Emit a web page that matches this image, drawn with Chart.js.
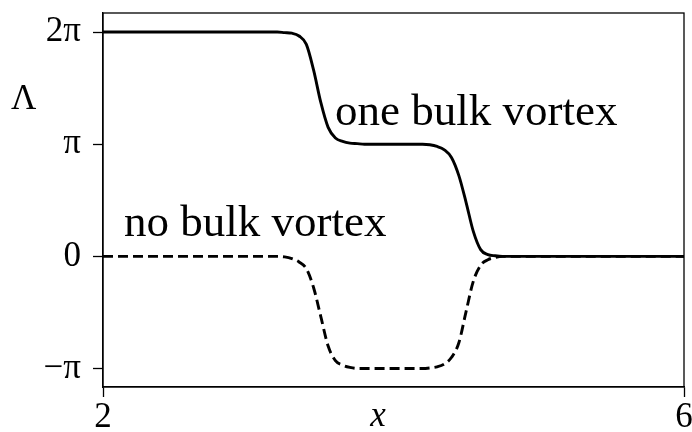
<!DOCTYPE html>
<html>
<head>
<meta charset="utf-8">
<script src="https://cdn.jsdelivr.net/npm/chart.js@4/dist/chart.umd.min.js"></script>
<style>
  html, body { margin: 0; padding: 0; background: #fff; }
  #wrap { width: 692px; height: 432px; }
</style>
</head>
<body>
<div id="wrap"><canvas id="chart" width="692" height="432"></canvas></div>
<script>
// x positions and Lambda values (in units of pi)
const xs = [2, 2.5, 3, 3.1, 3.2, 3.25, 3.3, 3.35, 3.4, 3.45, 3.5, 3.55, 3.6, 3.65, 3.7, 3.75, 3.8, 3.9,
            4, 4.1, 4.2, 4.25, 4.3, 4.35, 4.4, 4.45, 4.5, 4.55, 4.6, 4.65, 4.7, 4.75, 4.8, 4.9, 5, 5.5, 6];
const oneVortex = [2, 2, 2, 2, 2, 1.995, 1.99, 1.965, 1.89, 1.66, 1.37, 1.15, 1.055, 1.025, 1.01, 1.005, 1, 1,
                   1, 1, 1, 0.995, 0.98, 0.95, 0.88, 0.72, 0.48, 0.22, 0.06, 0.015, 0.005, 0, 0, 0, 0, 0, 0];
const noVortex = [0, 0, 0, 0, 0, -0.005, -0.02, -0.05, -0.11, -0.28, -0.54, -0.8, -0.93, -0.97, -0.99, -1, -1, -1,
                  -1, -1, -1, -0.995, -0.985, -0.96, -0.9, -0.77, -0.49, -0.22, -0.08, -0.03, -0.01, 0, 0, 0, 0, 0, 0];

const xTicks = [2, 6];
const yTicks = [-1, 0, 1, 2];
const yTickLabels = ["\u2212\u03c0", "0", "\u03c0", "2\u03c0"];

const serif = "'Liberation Serif', 'DejaVu Serif', serif";

function pts(ys) {
  return xs.map((x, i) => ({x: x, y: ys[i]}));
}

const frame = {
  id: 'frame',
  afterDraw(chart) {
    const c = chart.ctx, a = chart.chartArea;
    c.save();
    c.strokeStyle = '#000';
    c.lineWidth = 1.3;
    c.strokeRect(a.left, a.top, a.right - a.left, a.bottom - a.top);
    c.fillStyle = '#000';
    c.textBaseline = 'alphabetic';
    c.font = "35px " + serif;
    c.textAlign = 'left';
    c.fillText("\u039b", 11, 109);
    c.font = "italic 35px " + serif;
    c.textAlign = 'center';
    c.fillText("x", 378, 426);
    c.font = "45px " + serif;
    c.textAlign = 'left';
    c.fillText("one bulk vortex", 335, 125);
    c.fillText("no bulk vortex", 124, 236);
    c.restore();
  }
};

new Chart(document.getElementById('chart'), {
  type: 'line',
  data: {
    datasets: [
      {
        label: 'one bulk vortex',
        data: pts(oneVortex),
        borderColor: '#000',
        borderWidth: 2.9,
        pointRadius: 0,
        cubicInterpolationMode: 'monotone',
        fill: false
      },
      {
        label: 'no bulk vortex',
        data: pts(noVortex),
        borderColor: '#000',
        borderWidth: 2.9,
        borderDash: [10, 5],
        pointRadius: 0,
        cubicInterpolationMode: 'monotone',
        fill: false
      }
    ]
  },
  options: {
    responsive: false,
    animation: false,
    layout: { padding: { top: 13, right: 8, left: 0, bottom: 0 } },
    plugins: { legend: { display: false }, tooltip: { enabled: false } },
    scales: {
      x: {
        type: 'linear',
        min: 2,
        max: 6,
        afterBuildTicks: s => { s.ticks = xTicks.map(v => ({value: v})); },
        afterFit: s => { s.height = 45; s.paddingLeft = 0; s.paddingRight = 0; },
        grid: { drawOnChartArea: false, drawTicks: true, tickLength: 10, tickWidth: 1.3, color: '#000' },
        border: { display: true, color: '#000', width: 1.3 },
        ticks: { color: '#000', font: { family: serif, size: 35 }, padding: 0, maxRotation: 0 }
      },
      y: {
        type: 'linear',
        min: -1.165,
        max: 2.17,
        afterBuildTicks: s => { s.ticks = yTicks.map(v => ({value: v})); },
        afterFit: s => { s.width = 103; s.paddingTop = 0; s.paddingBottom = 0; },
        grid: { drawOnChartArea: false, drawTicks: true, tickLength: 10, tickWidth: 1.3, color: '#000' },
        border: { display: true, color: '#000', width: 1.3 },
        ticks: {
          color: '#000',
          font: { family: serif, size: 35 },
          padding: 12,
          callback: v => yTickLabels[yTicks.indexOf(v)]
        }
      }
    }
  },
  plugins: [frame]
});
</script>
</body>
</html>
